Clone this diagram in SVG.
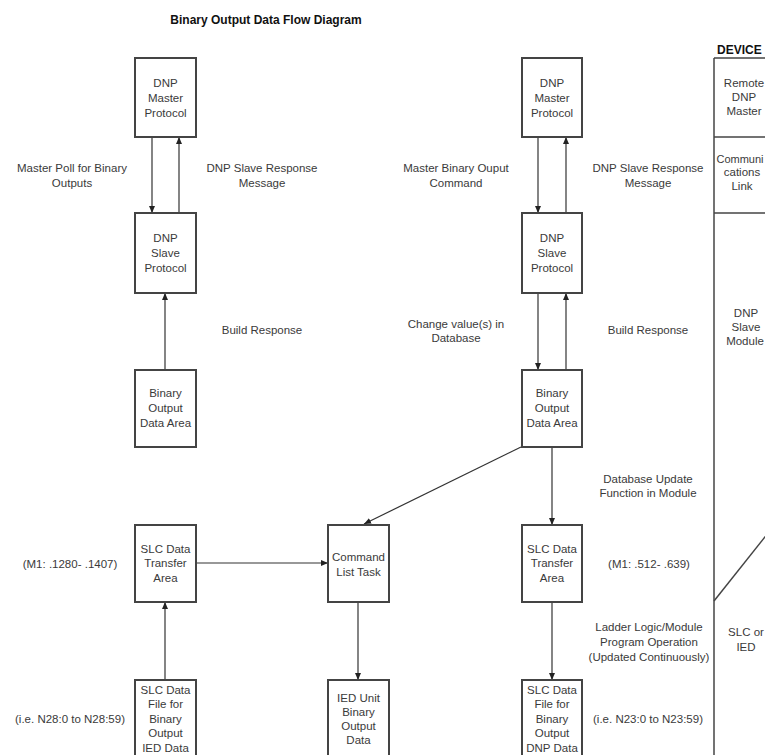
<svg xmlns="http://www.w3.org/2000/svg" width="765" height="755" viewBox="0 0 765 755">
<defs>
<marker id="ah" markerUnits="userSpaceOnUse" markerWidth="8" markerHeight="6" refX="7" refY="3" orient="auto">
<path d="M0,0 L7,3 L0,6 z" fill="#222"/>
</marker>
<style>
text{font-family:"Liberation Sans",Arial,sans-serif;font-size:11.5px;fill:#3a3a3a;text-anchor:middle}
.t{font-weight:bold;font-size:12px;fill:#111}
.dev{font-weight:bold;font-size:12px;fill:#111;text-anchor:start}
.box{fill:#fff;stroke:#444;stroke-width:2}
.c{fill:none;stroke:#333;stroke-width:1.2}
.a{fill:none;stroke:#333;stroke-width:1.2;marker-end:url(#ah)}
.l{fill:none;stroke:#444;stroke-width:1.5}
</style>
</defs>
<rect width="765" height="755" fill="#fff"/>
<text class="t" x="266" y="24">Binary Output Data Flow Diagram</text>

<g id="connectors">
<line class="a" x1="152" y1="137" x2="152" y2="213"/>
<line class="a" x1="179" y1="213" x2="179" y2="137"/>
<line class="a" x1="165" y1="370" x2="165" y2="293"/>
<line class="a" x1="538" y1="137" x2="538" y2="213"/>
<line class="a" x1="566" y1="213" x2="566" y2="137"/>
<line class="a" x1="538" y1="293" x2="538" y2="370"/>
<line class="a" x1="566" y1="370" x2="566" y2="293"/>
<line class="a" x1="552" y1="447" x2="552" y2="525"/>
<line class="a" x1="521" y1="447" x2="364" y2="524"/>
<line class="a" x1="195" y1="563" x2="328" y2="563"/>
<line class="a" x1="165" y1="680" x2="165" y2="602"/>
<line class="a" x1="358" y1="602" x2="358" y2="680"/>
<line class="a" x1="552" y1="602" x2="552" y2="680"/>
</g>

<g id="lbl-left">
<text x="72" y="172">Master Poll for Binary</text>
<text x="72" y="187">Outputs</text>
<text x="262" y="172">DNP Slave Response</text>
<text x="262" y="187">Message</text>
<text x="262" y="334">Build Response</text>
<text x="70" y="568">(M1: .1280- .1407)</text>
<text x="70" y="723">(i.e. N28:0 to N28:59)</text>
</g>
<g id="lbl-right">
<text x="456" y="172">Master Binary Ouput</text>
<text x="456" y="187">Command</text>
<text x="648" y="172">DNP Slave Response</text>
<text x="648" y="187">Message</text>
<text x="456" y="328">Change value(s) in</text>
<text x="456" y="342">Database</text>
<text x="648" y="334">Build Response</text>
<text x="648" y="483">Database Update</text>
<text x="648" y="497">Function in Module</text>
<text x="649" y="568">(M1: .512- .639)</text>
<text x="649" y="631">Ladder Logic/Module</text>
<text x="649" y="646">Program Operation</text>
<text x="649" y="661">(Updated Continuously)</text>
<text x="648" y="723">(i.e. N23:0 to N23:59)</text>
</g>

<g id="n-master-l">
<rect class="box" x="135" y="58" width="61" height="79"/>
<text x="165.5" y="87">DNP</text><text x="165.5" y="102">Master</text><text x="165.5" y="117">Protocol</text>
</g>
<g id="n-slave-l">
<rect class="box" x="135" y="213" width="61" height="80"/>
<text x="165.5" y="242">DNP</text><text x="165.5" y="257">Slave</text><text x="165.5" y="272">Protocol</text>
</g>
<g id="n-bo-l">
<rect class="box" x="135" y="370" width="61" height="77"/>
<text x="165.5" y="397">Binary</text><text x="165.5" y="412">Output</text><text x="165.5" y="427">Data Area</text>
</g>
<g id="n-slc-l">
<rect class="box" x="135" y="525" width="61" height="77"/>
<text x="165.5" y="553">SLC Data</text><text x="165.5" y="567">Transfer</text><text x="165.5" y="582">Area</text>
</g>
<g id="n-file-l">
<rect class="box" x="135" y="680" width="61" height="85"/>
<text x="165.5" y="694">SLC Data</text><text x="165.5" y="708">File for</text><text x="165.5" y="723">Binary</text><text x="165.5" y="737">Output</text><text x="165.5" y="752">IED Data</text>
</g>
<g id="n-cmd">
<rect class="box" x="328" y="525" width="61" height="77"/>
<text x="358.5" y="561">Command</text><text x="358.5" y="576">List Task</text>
</g>
<g id="n-ied">
<rect class="box" x="328" y="680" width="61" height="85"/>
<text x="358.5" y="702">IED Unit</text><text x="358.5" y="716">Binary</text><text x="358.5" y="730">Output</text><text x="358.5" y="744">Data</text>
</g>
<g id="n-master-r">
<rect class="box" x="522" y="58" width="60" height="79"/>
<text x="552" y="87">DNP</text><text x="552" y="102">Master</text><text x="552" y="117">Protocol</text>
</g>
<g id="n-slave-r">
<rect class="box" x="522" y="213" width="60" height="80"/>
<text x="552" y="242">DNP</text><text x="552" y="257">Slave</text><text x="552" y="272">Protocol</text>
</g>
<g id="n-bo-r">
<rect class="box" x="522" y="370" width="60" height="77"/>
<text x="552" y="397">Binary</text><text x="552" y="412">Output</text><text x="552" y="427">Data Area</text>
</g>
<g id="n-slc-r">
<rect class="box" x="522" y="525" width="60" height="77"/>
<text x="552" y="553">SLC Data</text><text x="552" y="567">Transfer</text><text x="552" y="582">Area</text>
</g>
<g id="n-file-r">
<rect class="box" x="522" y="680" width="60" height="85"/>
<text x="552" y="694">SLC Data</text><text x="552" y="708">File for</text><text x="552" y="723">Binary</text><text x="552" y="737">Output</text><text x="552" y="752">DNP Data</text>
</g>

<g id="device-column">
<text class="dev" x="717" y="54">DEVICE</text>
<line class="l" x1="714" y1="58" x2="714" y2="760"/>
<line class="l" x1="714" y1="58" x2="770" y2="58"/>
<line class="l" x1="714" y1="137" x2="770" y2="137"/>
<line class="l" x1="714" y1="213" x2="770" y2="213"/>
<line class="l" x1="714" y1="601" x2="780" y2="518"/>
<text x="744" y="87">Remote</text><text x="744" y="101">DNP</text><text x="744" y="115">Master</text>
<text x="740" y="163" style="font-size:11px">Communi</text><text x="742" y="176">cations</text><text x="742" y="190">Link</text>
<text x="746" y="317">DNP</text><text x="746" y="331">Slave</text><text x="745" y="345">Module</text>
<text x="746" y="636">SLC or</text><text x="746" y="651">IED</text>
</g>
</svg>
